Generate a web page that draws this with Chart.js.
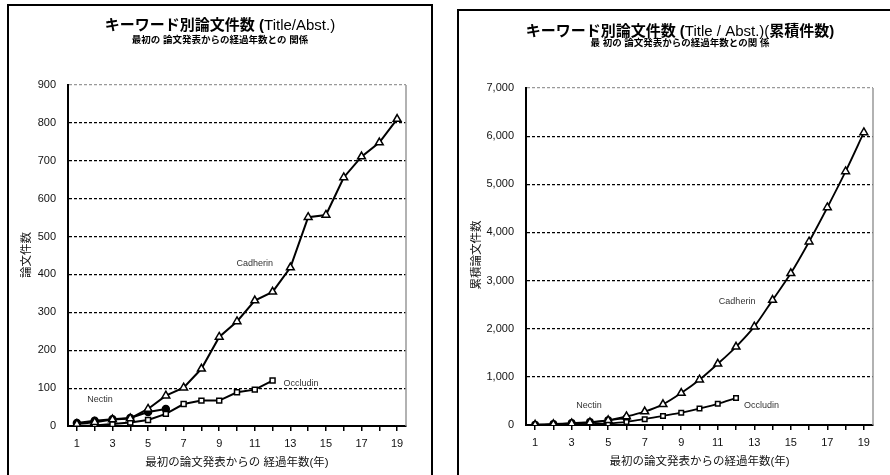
<!DOCTYPE html>
<html>
<head>
<meta charset="utf-8">
<script src="https://cdn.jsdelivr.net/npm/chart.js@4/dist/chart.umd.min.js"></script>
<style>
  html, body { margin: 0; padding: 0; background: #fff; }
  body { width: 890px; height: 475px; overflow: hidden; position: relative; }
  .panel { position: absolute; border: 2px solid #000; box-sizing: border-box; }
  .wrap { position: absolute; top: 0; width: 445px; height: 475px; }
</style>
</head>
<body>
<div class="panel" style="left:7px;top:4px;width:426px;height:500px"></div>
<div class="panel" style="left:457px;top:9px;width:460px;height:500px"></div>
<div class="wrap" style="left:0"><canvas id="annual"></canvas></div>
<div class="wrap" style="left:445px"><canvas id="cumulative"></canvas></div>

<script>
// Years since the first paper
const years = ['1','2','3','4','5','6','7','8','9','10','11','12','13','14','15','16','17','18','19'];

// Papers per year (Title/Abst. keyword hits)
const cadherinAnnual = [5, 10, 17, 20, 45, 80, 101, 151, 235, 276, 331, 354, 418, 551, 557, 656, 711, 748, 810];
const occludinAnnual = [0, 1, 5, 9, 16, 32, 58, 67, 67, 89, 96, 120];
const nectinAnnual   = [8, 14, 18, 21, 37, 45];

// Cumulative papers
const cadherinCumulative = [5, 15, 32, 52, 97, 177, 278, 429, 664, 940, 1271, 1625, 2043, 2594, 3151, 3807, 4518, 5266, 6076];
const occludinCumulative = [0, 1, 6, 15, 31, 63, 121, 188, 255, 344, 440, 560];
const nectinCumulative   = [8, 22, 40, 61, 98, 143];

// Value axis ticks
const annualTicks     = [0, 100, 200, 300, 400, 500, 600, 700, 800, 900];
const cumulativeTicks = [0, 1000, 2000, 3000, 4000, 5000, 6000, 7000];

const LATIN = '"Liberation Sans", Arial, "Noto Sans CJK JP", sans-serif';

// Titles, axis captions, series notes and the grey plot frame
const decoPlugin = {
  id: 'deco',
  afterDraw(chart, args, o) {
    const ctx = chart.ctx;
    const area = chart.chartArea;
    ctx.save();

    // grey right edge of the plot area
    ctx.strokeStyle = '#999';
    ctx.lineWidth = 1.5;
    ctx.beginPath();
    ctx.moveTo(area.right, area.top);
    ctx.lineTo(area.right, area.bottom);
    ctx.stroke();

    // main title in mixed weights
    ctx.fillStyle = '#000';
    ctx.textBaseline = 'middle';
    ctx.textAlign = 'left';
    let total = 0;
    const parts = o.title.map(p => {
      ctx.font = (p.bold ? 'bold ' : '') + o.titleSize + 'px ' + LATIN;
      const w = ctx.measureText(p.text).width;
      total += w;
      return { ...p, w };
    });
    let x = o.titleX - total / 2;
    parts.forEach(p => {
      ctx.font = (p.bold ? 'bold ' : '') + o.titleSize + 'px ' + LATIN;
      ctx.fillText(p.text, x, o.titleY);
      x += p.w;
    });

    // subtitle
    ctx.textAlign = 'center';
    ctx.font = 'bold 9.5px ' + LATIN;
    ctx.fillText(o.subtitle, o.titleX, o.subtitleY);

    // x axis caption
    ctx.font = '11.5px ' + LATIN;
    ctx.fillStyle = '#111';
    ctx.fillText(o.xTitle, (area.left + area.right) / 2, o.xTitleY);

    // y axis caption (rotated)
    ctx.save();
    ctx.translate(o.yTitleX, o.yTitleY);
    ctx.rotate(-Math.PI / 2);
    ctx.fillText(o.yTitle, 0, 0);
    ctx.restore();

    // series notes placed in data coordinates
    ctx.font = '9px ' + LATIN;
    ctx.fillStyle = '#333';
    const sx = chart.scales.x, sy = chart.scales.y;
    o.notes.forEach(n => {
      ctx.fillText(n.text, sx.getPixelForValue(n.i), sy.getPixelForValue(n.v));
    });

    ctx.restore();
  }
};

function series(label, data, style, radius, fill, width, tension) {
  return {
    label, data,
    borderColor: '#000',
    borderWidth: width,
    pointStyle: style,
    pointRadius: radius,
    pointBackgroundColor: fill,
    pointBorderColor: '#000',
    pointBorderWidth: 1.5,
    tension: tension,
    fill: false
  };
}

function build(id, cfg) {
  const max = cfg.ticks[cfg.ticks.length - 1];
  return new Chart(document.getElementById(id), {
    type: 'line',
    data: { labels: years, datasets: cfg.datasets },
    plugins: [decoPlugin],
    options: {
      responsive: true,
      maintainAspectRatio: false,
      animation: false,
      events: [],
      layout: { padding: { left: 0, top: cfg.top, right: cfg.right, bottom: 0 } },
      plugins: {
        legend: { display: false },
        tooltip: { enabled: false },
        deco: cfg.deco
      },
      scales: {
        x: {
          type: 'category',
          offset: true,
          afterFit: s => { s.height = cfg.xHeight; },
          grid: { drawOnChartArea: false, drawTicks: true, tickLength: 5, color: '#000', lineWidth: 1.5 },
          border: { display: true, color: '#000', width: 2 },
          ticks: {
            autoSkip: false, maxRotation: 0, padding: 6,
            color: '#111',
            font: { family: LATIN, size: 11 },
            callback: (v, i) => (i % 2 === 0 ? years[i] : '')
          }
        },
        y: {
          min: 0, max: max,
          afterFit: s => { s.width = cfg.yWidth; },
          afterBuildTicks: s => { s.ticks = cfg.ticks.map(v => ({ value: v })); },
          grid: {
            drawTicks: false,
            lineWidth: 1.2,
            color: c => (c.tick && c.tick.value === 0) ? 'rgba(0,0,0,0)'
                      : (c.tick && c.tick.value === max) ? '#999' : '#000'
          },
          border: { display: true, color: '#000', width: 2, dash: [3, 2] },
          ticks: {
            padding: 12,
            color: '#111',
            font: { family: LATIN, size: 11 },
            callback: v => cfg.format(v)
          }
        }
      }
    }
  });
}

build('annual', {
  top: 85, right: 39, xHeight: 49, yWidth: 68,
  ticks: annualTicks,
  format: v => String(v),
  datasets: [
    series('Cadherin', cadherinAnnual, 'triangle', 4.5, '#fff', 2, 0),
    series('Occludin', occludinAnnual, 'rect', 3.5, '#fff', 2, 0),
    series('Nectin', nectinAnnual, 'circle', 3.5, '#000', 2, 0)
  ],
  deco: {
    title: [
      { text: 'キーワード別論文件数 (', bold: true },
      { text: 'Title/Abst.)', bold: false }
    ],
    titleSize: 15, titleX: 220, titleY: 26,
    subtitle: '最初の 論文発表からの経過年数との 関係', subtitleY: 40,
    xTitle: '最初の論文発表からの 経過年数(年)', xTitleY: 463,
    yTitle: '論文件数', yTitleX: 27, yTitleY: 255,
    notes: [
      { text: 'Cadherin', i: 10.0, v: 430 },
      { text: 'Occludin', i: 12.6, v: 111 },
      { text: 'Nectin', i: 1.3, v: 71 }
    ]
  }
});

build('cumulative', {
  top: 88, right: 17, xHeight: 50, yWidth: 81,
  ticks: cumulativeTicks,
  format: v => v.toLocaleString('en-US'),
  datasets: [
    series('Cadherin', cadherinCumulative, 'triangle', 4.5, '#fff', 1.8, 0.3),
    series('Occludin', occludinCumulative, 'rect', 3.2, '#fff', 1.8, 0.3),
    series('Nectin', nectinCumulative, 'circle', 3.2, '#000', 1.8, 0.3)
  ],
  deco: {
    title: [
      { text: 'キーワード別論文件数 (', bold: true },
      { text: 'Title / Abst.)(', bold: false },
      { text: '累積件数)', bold: true }
    ],
    titleSize: 15, titleX: 235, titleY: 32,
    subtitle: '最 初の 論文発表からの経過年数との関 係', subtitleY: 43.5,
    xTitle: '最初の論文発表からの経過年数(年)', xTitleY: 462,
    yTitle: '累積論文件数', yTitleX: 32, yTitleY: 255,
    notes: [
      { text: 'Cadherin', i: 11.06, v: 2560 },
      { text: 'Occludin', i: 12.4, v: 395 },
      { text: 'Nectin', i: 2.95, v: 395 }
    ]
  }
});
</script>
</body>
</html>
